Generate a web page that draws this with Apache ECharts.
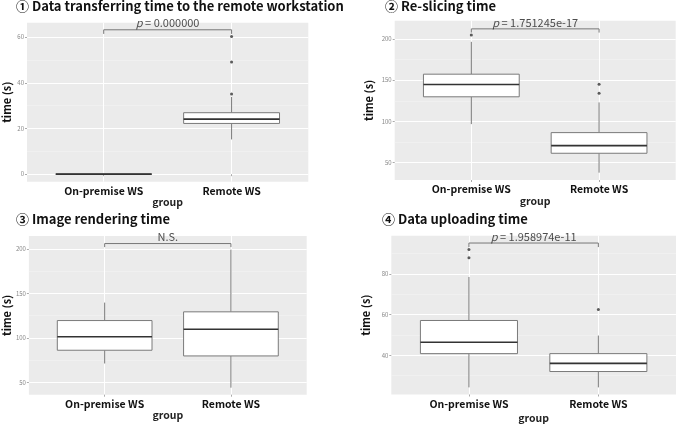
<!DOCTYPE html>
<html style="height: 100%">
<head>
	<meta charset="utf-8">
	<title></title>
	<script type="text/javascript" src="https://cdn.jsdelivr.net/npm/echarts@6/dist/echarts.min.js"></script>
</head>
<body style="height: 100%; margin: 0">
<div id="container" style="width: 676px; height: 424px"></div>
<script type="text/javascript">
	var groups = ['On-premise WS', 'Remote WS'];
	var titles = ['\u2460 Data transferring time to the remote workstation', '\u2461 Re-slicing time', '\u2462 Image rendering time', '\u2463 Data uploading time'];
	var pTexts = ['0.000000', '1.751245e-17', 'N.S.', '1.958974e-11'];

	// [min, Q1, median, Q3, max] per group
	var transferBox = [[0, 0, 0, 0, 0], [15.2, 22.2, 24.1, 26.9, 33.8]];
	var slicingBox = [[96.7, 129.8, 144.7, 157.2, 196.4], [37.9, 61.4, 70.6, 86.4, 123]];
	var renderBox = [[71.1, 86, 101.1, 119.4, 139.6], [43.9, 79.6, 109.6, 129.2, 199.2]];
	var uploadBox = [[24.2, 40.8, 46.4, 57.1, 78.5], [24.2, 32, 36, 40.8, 49.7]];

	// outliers: [group index (1-based), value]
	var transferOut = [[2, 35.1], [2, 49.1], [2, 60.3]];
	var slicingOut = [[1, 204.8], [2, 134.2], [2, 145]];
	var renderOut = [];
	var uploadOut = [[1, 88], [1, 92], [2, 62.5]];

	var bracketY = [63.2, 212.1, 206, 95.2];
	var tipLen = [1.8, 4.5, 4, 2];
	var yTicks = [[0, 20, 40, 60], [50, 100, 150, 200], [50, 100, 150, 200], [40, 60, 80]];
	var yRange = [[-3.3, 66.3], [29, 222], [36, 214.5], [20.7, 98.8]];
	var ySplit = [3, 4, 4, 4];

	var boxes = [transferBox, slicingBox, renderBox, uploadBox];
	var outs = [transferOut, slicingOut, renderOut, uploadOut];

	var font = '"Noto Sans CJK JP", "Noto Sans", sans-serif';
	var grids = [
		{left: 25, top: 22.7, width: 283.3, height: 159},
		{left: 394.7, top: 20.7, width: 281, height: 159.3},
		{left: 26, top: 236, width: 280.7, height: 158.7},
		{left: 391.3, top: 235.7, width: 284.7, height: 159}
	];
	var titlePos = [[16, 0], [385, 0], [16, 213], [382, 213]];
	var yNameGap = [15, 20, 16, 19.6];
	var xNameGap = [14, 11, 13, 18];

	function renderBoxItem(params, api) {
		var x = api.value(0);
		var lo = api.value(1), q1 = api.value(2), med = api.value(3), q3 = api.value(4), hi = api.value(5);
		var w = api.size([0.75, 0])[0];
		var pLo = api.coord([x, lo]), pQ1 = api.coord([x, q1]), pMed = api.coord([x, med]);
		var pQ3 = api.coord([x, q3]), pHi = api.coord([x, hi]);
		var stroke = '#7a7a7a';
		return {
			type: 'group',
			children: [
				{type: 'line', shape: {x1: pLo[0], y1: pLo[1], x2: pQ1[0], y2: pQ1[1]}, style: {stroke: stroke, lineWidth: 1}},
				{type: 'line', shape: {x1: pQ3[0], y1: pQ3[1], x2: pHi[0], y2: pHi[1]}, style: {stroke: stroke, lineWidth: 1}},
				{type: 'rect', shape: {x: pQ1[0] - w / 2, y: pQ3[1], width: w, height: pQ1[1] - pQ3[1]}, style: {fill: '#fff', stroke: stroke, lineWidth: 1}},
				{type: 'line', shape: {x1: pMed[0] - w / 2, y1: pMed[1], x2: pMed[0] + w / 2, y2: pMed[1]}, style: {stroke: '#333', lineWidth: 1.6}}
			]
		};
	}

	var option = {
		animation: false,
		backgroundColor: '#fff',
		title: [],
		grid: grids,
		xAxis: [],
		yAxis: [],
		series: []
	};

	for (var k = 0; k < 4; k++) {
		option.title.push({
			text: titles[k], left: titlePos[k][0], top: titlePos[k][1], padding: 0,
			textStyle: {fontFamily: font, fontSize: 13, fontWeight: 'bold', color: '#111'}
		});
		option.xAxis.push({
			gridIndex: k, type: 'value', min: 0.4, max: 2.6,
			name: 'group', nameLocation: 'middle', nameGap: xNameGap[k],
			nameTextStyle: {fontFamily: font, fontSize: 10.5, fontWeight: 'bold', color: '#222'},
			axisLine: {show: false},
			axisTick: {show: true, length: 2, customValues: [1, 2], lineStyle: {color: '#aaa'}},
			axisLabel: {
				customValues: [1, 2], margin: 4,
				fontFamily: font, fontSize: 10.5, fontWeight: 'bold', color: '#111',
				formatter: function (v) { return groups[Math.round(v) - 1]; }
			},
			splitLine: {show: true, lineStyle: {color: '#fff', width: 1}}
		});
		option.yAxis.push({
			gridIndex: k, type: 'value', min: yRange[k][0], max: yRange[k][1], splitNumber: ySplit[k],
			name: 'time (s)', nameLocation: 'middle', nameGap: yNameGap[k], nameRotate: 90,
			nameTextStyle: {fontFamily: font, fontSize: 11, fontWeight: 'bold', color: '#111'},
			axisLine: {show: false},
			axisTick: {show: true, length: 2, customValues: yTicks[k], lineStyle: {color: '#aaa'}},
			axisLabel: {customValues: yTicks[k], margin: 3, fontFamily: font, fontSize: 6, color: '#888'},
			splitLine: {show: true, lineStyle: {color: '#fff', width: 1}},
			minorTick: {show: false, splitNumber: 2},
			minorSplitLine: {show: true, lineStyle: {color: '#f4f4f4', width: 0.6}}
		});
		option.grid[k].backgroundColor = '#ebebeb';
		option.grid[k].show = true;
		option.grid[k].borderWidth = 0;

		option.series.push({
			type: 'custom', xAxisIndex: k, yAxisIndex: k,
			renderItem: renderBoxItem,
			encode: {x: 0, y: [1, 2, 3, 4, 5]},
			data: boxes[k].map(function (b, i) { return [i + 1].concat(b); }),
			z: 3
		});
		option.series.push({
			type: 'scatter', xAxisIndex: k, yAxisIndex: k,
			symbolSize: 3, itemStyle: {color: '#333'},
			data: outs[k], z: 4
		});
		var y = bracketY[k], t = tipLen[k];
		option.series.push({
			type: 'line', xAxisIndex: k, yAxisIndex: k,
			symbol: 'none', lineStyle: {color: '#777', width: 1},
			data: [[1, y - t], [1, y], [2, y], [2, y - t]], z: 5
		});
		option.series.push({
			type: 'scatter', xAxisIndex: k, yAxisIndex: k,
			symbolSize: 0, silent: true,
			data: [[1.5, y]],
			label: {
				show: true, position: 'top', distance: 1,
				fontFamily: font, fontSize: 11, color: '#222',
				formatter: k === 2 ? pTexts[k] : '{i|p} = ' + pTexts[k],
				rich: {i: {fontStyle: 'italic', fontFamily: font, fontSize: 11, color: '#222'}}
			},
			z: 5
		});
	}

	var myChart = echarts.init(document.getElementById('container'));
	myChart.setOption(option);
</script>
</body>
</html>
